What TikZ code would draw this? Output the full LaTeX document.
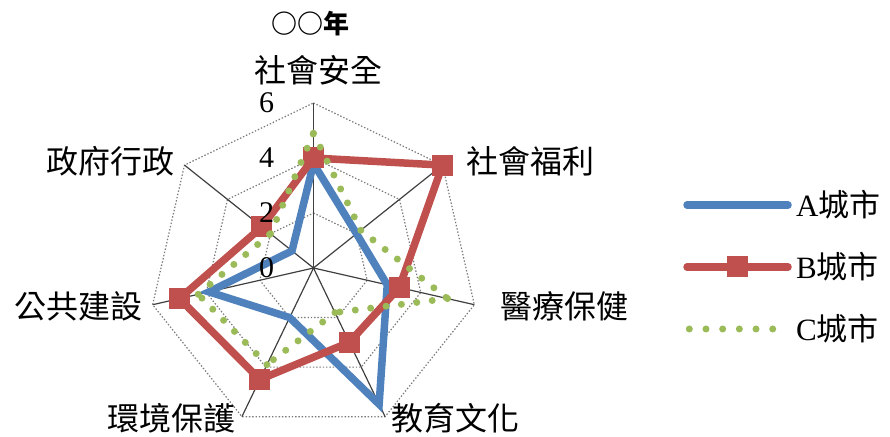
\documentclass[tikz,border=0pt]{standalone}
\usepackage{fontspec}
\setmainfont{Liberation Serif}
\newfontfamily\cjk{Noto Sans CJK TC}
\definecolor{cityA}{HTML}{4F81BD}
\definecolor{cityB}{HTML}{C0504D}
\definecolor{cityC}{HTML}{9BBB59}
\definecolor{spokegray}{HTML}{404040}
\definecolor{ringgray}{HTML}{7A7A7A}
\newcommand{\unitlen}{27.5}

\begin{document}
\begin{tikzpicture}[x=1pt,y=1pt,
  spoke/.style={spokegray,line width=1.2pt},
  ring/.style={ringgray,line width=1.2pt,dash pattern=on 1.4pt off 1.9pt},
  seriesA/.style={cityA,line width=7.5pt},
  seriesB/.style={cityB,line width=7.5pt},
  seriesC/.style={cityC,line width=7pt,line cap=round,dash pattern=on 0pt off 15.5pt},
  bmark/.style={fill=cityB,minimum size=21pt,inner sep=0pt},
  cat/.style={font=\cjk\fontsize{32}{36}\selectfont,inner sep=0pt},
  tick/.style={font=\fontsize{30}{34}\selectfont,inner sep=0pt},
  legtext/.style={font=\fontsize{31}{34}\selectfont,anchor=west,inner sep=0pt}]
\useasboundingbox (0,0) rectangle (890,436);
\coordinate (o) at (313.5,168);

\begin{scope}[shift={(o)}]
  % grid
  \foreach \lvl in {2,4,6}
    \draw[ring] (90:\lvl*\unitlen) \foreach \k in {1,...,6}{ -- (90-\k*360/7:\lvl*\unitlen)} -- cycle;
  \foreach \k in {0,...,6}
    \coordinate (g\k) at (90-\k*360/7:6*\unitlen);
  \foreach \k in {0,...,6}
    \draw[spoke] (o) -- (g\k);

  % data
  \foreach \v [count=\k from 0] in {3.8,2,2.75,5.5,2,3.9,1}
    \coordinate (a\k) at (90-\k*360/7:\v*\unitlen);
  \foreach \v [count=\k from 0] in {4,6,3.2,3,4.5,5,2.4}
    \coordinate (b\k) at (90-\k*360/7:\v*\unitlen);
  \foreach \v [count=\k from 0] in {4.9,2.2,5,1.8,3.9,4.3,2}
    \coordinate (c\k) at (90-\k*360/7:\v*\unitlen);

  \draw[seriesA] (a0) -- (a1) -- (a2) -- (a3) -- (a4) -- (a5) -- (a6) -- cycle;
  \draw[seriesB] (b0) -- (b1) -- (b2) -- (b3) -- (b4) -- (b5) -- (b6) -- cycle;
  \foreach \k in {0,...,6}
    \node[bmark] (bm\k) at (b\k) {};
  \foreach \k [evaluate=\k as \n using {int(mod(\k+1,7))}] in {0,...,6}
    \draw[seriesC] (c\k) -- (c\n);

  % axis numbers
  \foreach \lvl in {0,2,4,6}
    \node[tick] (t\lvl) at (-47,\lvl*\unitlen) {\lvl};
\end{scope}

\node[font=\cjk\bfseries\fontsize{26}{30}\selectfont,inner sep=0pt] (title) at (310,412) {○○年};
\node[cat] (safe) at (318,366) {社會安全};
\node[cat] (welfare) at (530,275) {社會福利};
\node[cat] (health) at (564,130) {醫療保健};
\node[cat] (edu) at (455,18) {教育文化};
\node[cat] (env) at (171,18) {環境保護};
\node[cat] (works) at (78,130) {公共建設};
\node[cat] (admin) at (110,275) {政府行政};

% legend
\coordinate (la1) at (687,231);
\coordinate (la2) at (788,231);
\draw[seriesA,line cap=round] (la1) -- (la2);
\node[legtext] (legA) at (796,231) {A{\cjk 城市}};
\coordinate (lb1) at (687,169);
\coordinate (lb2) at (788,169);
\draw[seriesB,line cap=round] (lb1) -- (lb2);
\node[bmark] (lbm) at (737,169) {};
\node[legtext] (legB) at (796,169) {B{\cjk 城市}};
\coordinate (lc1) at (689.3,107);
\coordinate (lc2) at (774,107);
\draw[seriesC,dash pattern=on 0pt off 16.68pt] (lc1) -- (lc2);
\node[legtext] (legC) at (796,107) {C{\cjk 城市}};
\end{tikzpicture}
\end{document}
